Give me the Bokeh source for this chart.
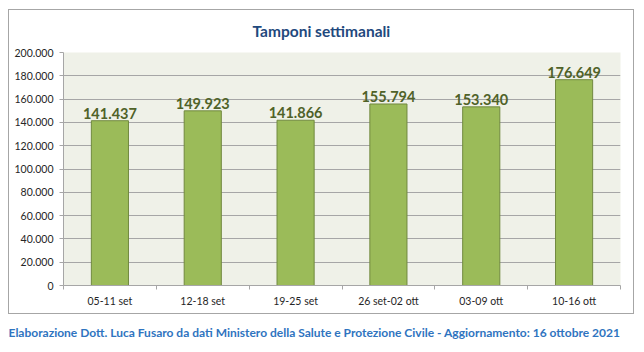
from bokeh.plotting import figure
from bokeh.models import (ColumnDataSource, FixedTicker, LabelSet, Title,
                          Range1d, InlineStyleSheet)
from bokeh.core.properties import value
from bokeh.embed import file_html
from bokeh.resources import INLINE

# ---- data ----
weeks = ["05-11 set", "12-18 set", "19-25 set", "26 set-02 ott", "03-09 ott", "10-16 ott"]
tamponi = [141437, 149923, 141866, 155794, 153340, 176649]
y_ticks = [0, 20000, 40000, 60000, 80000, 100000, 120000, 140000, 160000, 180000, 200000]
title_text = "Tamponi settimanali"
footer_text = ("Elaborazione Dott. Luca Fusaro da dati Ministero della Salute e "
               "Protezione Civile - Aggiornamento: 16 ottobre 2021")

def it_fmt(v):
    return f"{v:,}".replace(",", ".")

xs = [i + 0.5 for i in range(len(weeks))]
src = ColumnDataSource(dict(x=xs, y=tamponi, lab=[it_fmt(v) for v in tamponi]))

FONT = "Lato"
FL, FR, FT, FB = 63, 620, 52, 286
W, H = 644, 352

# outer chart box drawn with CSS on the plot host element
box_css = InlineStyleSheet(css="""
:host::after {
  content: "";
  position: absolute;
  left: 8px; top: 9px; width: 624px; height: 303px;
  border: 1px solid #A6A6A6;
  pointer-events: none;
}
""")

p = figure(width=W, height=H, output_backend="svg", toolbar_location=None,
           x_range=Range1d(0, len(weeks)), y_range=Range1d(0, 200000),
           min_border_left=FL, min_border_right=W - FR, min_border_top=FT,
           min_border_bottom=H - FB, stylesheets=[box_css])
p.background_fill_color = "#EFF1E8"
p.border_fill_color = "white"
p.outline_line_color = None

p.vbar(x="x", top="y", width=0.4, source=src, fill_color="#9BBB59",
       line_color="#71893F", line_width=1)

p.add_layout(LabelSet(x="x", y="y", text="lab", source=src, y_offset=2,
                      text_align="center", text_baseline="bottom",
                      text_font=value(FONT), text_font_style="bold",
                      text_font_size="14.5px", text_color="#4F6228"))

# grid
p.xgrid.grid_line_color = None
p.ygrid.ticker = FixedTicker(ticks=y_ticks)
p.ygrid.grid_line_color = "#A6A6A6"
p.ygrid.grid_line_width = 1

# y axis
p.yaxis.ticker = FixedTicker(ticks=y_ticks)
p.yaxis.major_label_overrides = {t: it_fmt(t) for t in y_ticks}
p.yaxis.axis_line_color = "#A6A6A6"
p.yaxis.major_tick_line_color = "#A6A6A6"
p.yaxis.major_tick_out = 4
p.yaxis.major_tick_in = 0
p.yaxis.minor_tick_line_color = None
p.yaxis.major_label_text_font = FONT
p.yaxis.major_label_text_font_size = "10.5px"
p.yaxis.major_label_text_color = "#262626"
p.yaxis.major_label_standoff = 6

# x axis: labels at centres, ticks at boundaries (minor)
p.xaxis.ticker = FixedTicker(ticks=xs, minor_ticks=list(range(len(weeks) + 1)))
p.xaxis.major_label_overrides = {x: w for x, w in zip(xs, weeks)}
p.xaxis.axis_line_color = "#A6A6A6"
p.xaxis.major_tick_line_color = None
p.xaxis.minor_tick_line_color = "#A6A6A6"
p.xaxis.minor_tick_out = 4
p.xaxis.minor_tick_in = 0
p.xaxis.major_label_text_font = FONT
p.xaxis.major_label_text_font_size = "10.5px"
p.xaxis.major_label_text_color = "#262626"
p.xaxis.major_label_standoff = 3

# title
p.title.text = title_text
p.title.align = "left"
p.title.offset = 189
p.title.text_font = FONT
p.title.text_font_style = "bold"
p.title.text_font_size = "15.5px"
p.title.text_color = "#1F497D"
p.title.standoff = 25

# footer
p.add_layout(Title(text=footer_text, align="left", offset=-55, text_font=FONT,
                   text_font_style="bold", text_font_size="12px",
                   text_color="#2F74C0", standoff=26), "below")

open("out.html", "w").write(file_html(p, INLINE))
